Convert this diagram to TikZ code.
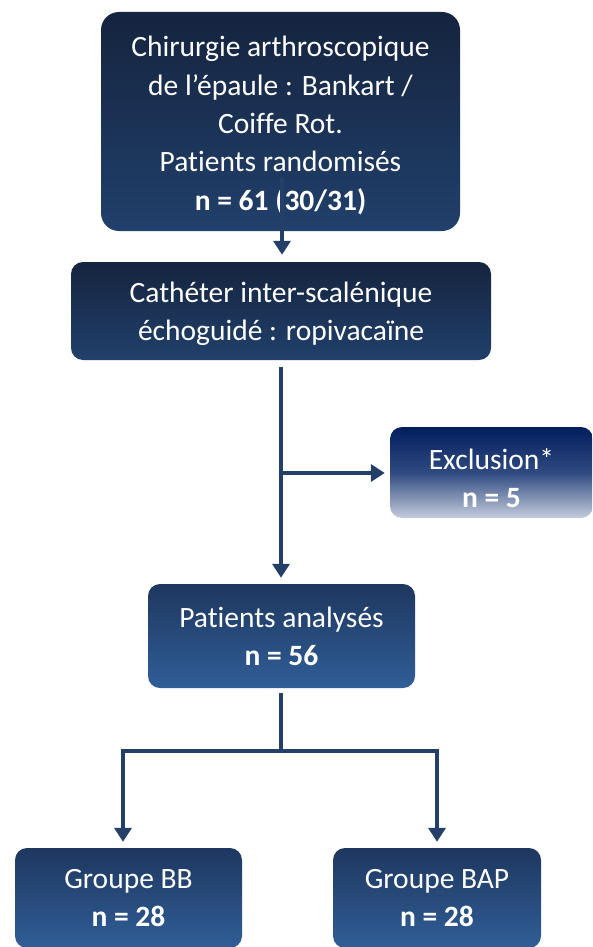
\documentclass[tikz,border=0pt]{standalone}
\usepackage{fontspec}
\setmainfont[Ligatures={NoCommon}]{Carlito}
\usetikzlibrary{arrows.meta}
\definecolor{boxtopA}{HTML}{15243F}
\definecolor{boxbotA}{HTML}{21406B}
\definecolor{boxtopB}{HTML}{1E375F}
\definecolor{boxbotB}{HTML}{305E97}
\definecolor{extop}{HTML}{021E5E}
\definecolor{exmid}{HTML}{2F4A80}
\definecolor{exbot}{HTML}{C5CCDD}
\definecolor{arrowc}{HTML}{243F68}
\tikzset{
  flowbox/.style={rectangle, rounded corners=12pt, inner sep=0pt},
  darkbox/.style={flowbox, top color=boxtopA, bottom color=boxbotA},
  bluebox/.style={flowbox, top color=boxtopB, bottom color=boxbotB},
  exbox/.style={flowbox, top color=extop, bottom color=exbot, middle color=exmid},
  boxtext/.style={text=white, align=center, inner sep=0pt, font=\fontsize{29.5}{38}\selectfont},
  conn/.style={draw=arrowc, line width=4pt},
  arr/.style={conn, -{Triangle[width=17pt,length=14pt]}}
}
\begin{document}
\begin{tikzpicture}[x=1pt,y=-1pt]
\useasboundingbox (0,0) rectangle (592,947);
\clip (0,0) rectangle (592,947);
\node[darkbox, rounded corners=18pt, minimum width=359pt, minimum height=219pt] (rand) at (280.5,121.5) {};
\node[boxtext, font=\fontsize{29.5}{38.4}\selectfont, yshift=-4pt] (randtxt) at (rand.center)
  {Chirurgie arthroscopique\\de l’épaule : Bankart /\\Coiffe Rot.\\Patients randomisés\\\textbf{n = 61 (30/31)}};
\node[darkbox, minimum width=420pt, minimum height=98pt] (cath) at (281,311) {};
\node[boxtext, yshift=-3pt] (cathtxt) at (cath.center)
  {Cathéter inter-scalénique\\échoguidé : ropivacaïne};
\node[exbox, minimum width=203pt, minimum height=91pt] (excl) at (491.5,472.5) {};
\node[boxtext, yshift=-5.5pt] (excltxt) at (excl.center)
  {Exclusion*\\\textbf{n = 5}};
\node[bluebox, minimum width=267pt, minimum height=104pt] (anal) at (281.5,636) {};
\node[boxtext] (analtxt) at (anal.center)
  {Patients analysés\\\textbf{n = 56}};
\node[bluebox, minimum width=227pt, minimum height=100pt] (bb) at (128.5,898) {};
\node[boxtext] (bbtxt) at (bb.center)
  {Groupe BB\\\textbf{n = 28}};
\node[bluebox, minimum width=208pt, minimum height=100pt] (bap) at (437,898) {};
\node[boxtext] (baptxt) at (bap.center)
  {Groupe BAP\\\textbf{n = 28}};
\coordinate (s1) at (282,178);
\coordinate (s2) at (281,367);
\coordinate (s3) at (283,473);
\coordinate (s4) at (281,693);
\coordinate (j) at (281,751);
\coordinate (jl) at (123,751);
\coordinate (jr) at (437,751);
\draw[arr, shorten >=7pt] (s1) -- (s1 |- cath.north);
\draw[arr, shorten >=6pt] (s2) -- (s2 |- anal.north);
\draw[arr, shorten >=5pt] (s3) -- (s3 -| excl.west);
\draw[conn] (s4) -- (j);
\draw[conn, line cap=rect] (jl) -- (jr);
\draw[arr, shorten >=6pt] (jl) -- (jl |- bb.north);
\draw[arr, shorten >=6pt] (jr) -- (jr |- bap.north);
\end{tikzpicture}
\end{document}
